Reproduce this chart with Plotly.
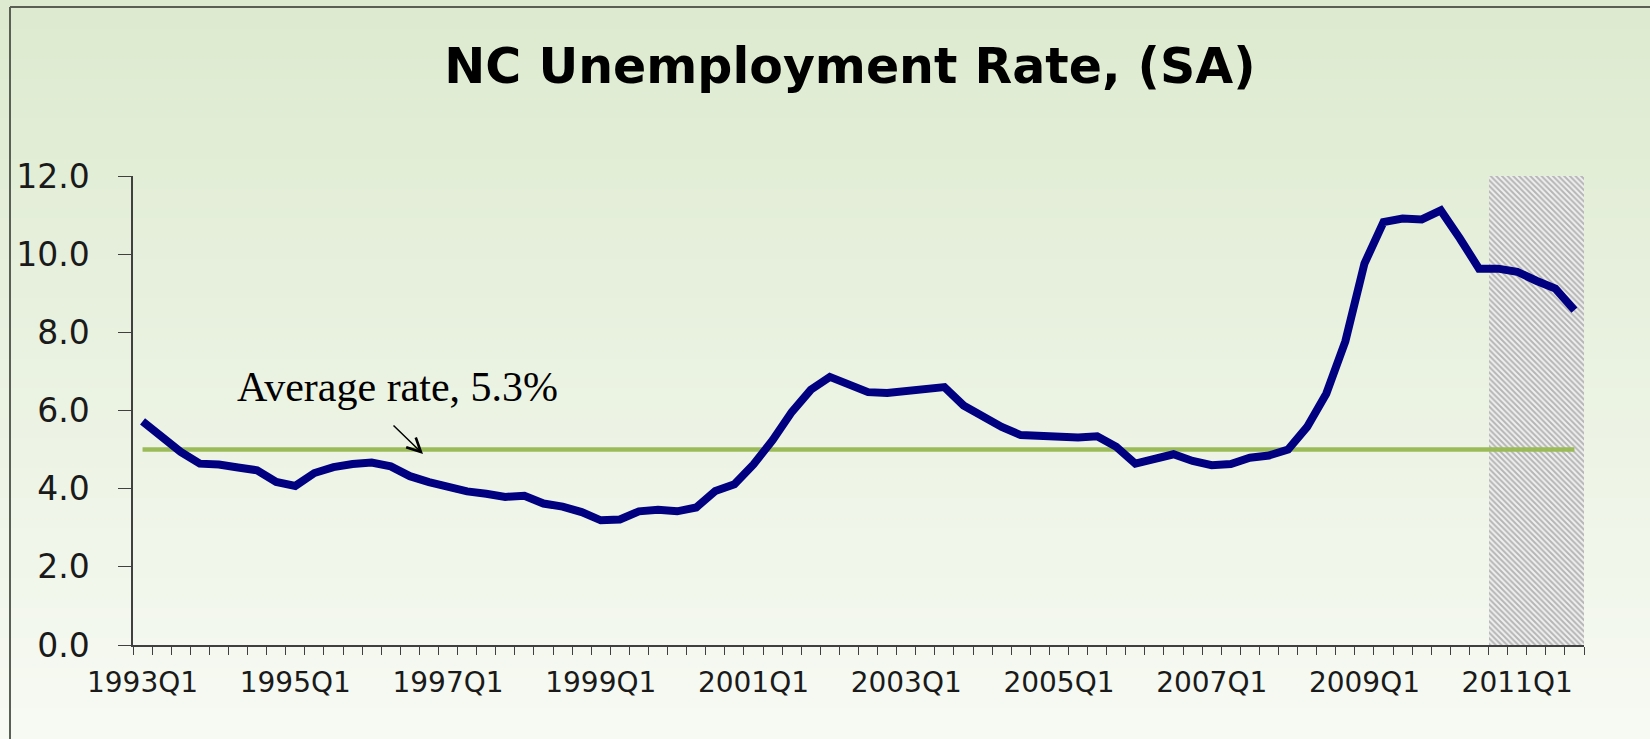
import plotly.graph_objects as go

# ---------------- data ----------------
quarters = [f"{yr}Q{q}" for yr in range(1993, 2012) for q in range(1, 5)]

unemployment_rate = [
    5.72, 5.32, 4.94, 4.64, 4.62, 4.54, 4.47, 4.17,   # 1993-1994
    4.07, 4.40, 4.55, 4.63, 4.67, 4.57, 4.32, 4.17,   # 1995-1996
    4.04, 3.93, 3.87, 3.79, 3.82, 3.62, 3.54, 3.40,   # 1997-1998
    3.19, 3.21, 3.42, 3.46, 3.42, 3.52, 3.94, 4.11,   # 1999-2000
    4.62, 5.24, 5.96, 6.53, 6.86, 6.69, 6.47, 6.45,   # 2001-2002
    6.50, 6.60, 6.60, 6.13, 5.83, 5.58, 5.37, 5.34,   # 2003-2004
    5.34, 5.31, 5.34, 5.07, 4.64, 4.74, 4.88, 4.71,   # 2005-2006
    4.60, 4.63, 4.79, 4.85, 5.00, 5.58, 6.43, 7.77,   # 2007-2008
    9.76, 10.82, 10.91, 10.89, 11.12, 10.40, 9.63, 9.63,  # 2009-2010
    9.55, 9.32, 9.12, 8.57,                           # 2011
]

average_line_level = 5.0          # level at which the "average" line is drawn
average_label = "Average rate, 5.3%"

forecast_quarters = ["2010Q4", "2011Q1", "2011Q2", "2011Q3", "2011Q4"]

x_tick_labels = ["1993Q1", "1995Q1", "1997Q1", "1999Q1", "2001Q1",
                 "2003Q1", "2005Q1", "2007Q1", "2009Q1", "2011Q1"]
y_tick_values = [0, 2, 4, 6, 8, 10, 12]
y_tick_labels = ["0.0", "2.0", "4.0", "6.0", "8.0", "10.0", "12.0"]

title_text = "NC Unemployment Rate, (SA)"

# ---------------- layout geometry ----------------
W, H = 1650, 739
ML, MR, MT, MB = 133, 66, 176, 94
PW, PH = W - ML - MR, H - MT - MB
Y_MAX = 12


def px_x(px):
    return (px - ML) / PW


def px_y(py):
    return (H - MB - py) / PH


x_idx = list(range(len(quarters)))
forecast_idx = [quarters.index(q) for q in forecast_quarters]
tick_idx = [quarters.index(q) for q in x_tick_labels]

fig = go.Figure()

# forecast shading (hatched)
fig.add_trace(go.Bar(
    x=forecast_idx,
    y=[Y_MAX] * len(forecast_idx),
    width=1,
    marker=dict(
        color="#e6e6e6",
        line=dict(width=0),
        pattern=dict(shape="\\", fgcolor="#7a7a7a", bgcolor="#f0f0f0",
                     size=4, solidity=0.5),
    ),
    hoverinfo="skip",
))

# average line
fig.add_trace(go.Scatter(
    x=x_idx,
    y=[average_line_level] * len(x_idx),
    mode="lines",
    line=dict(color="#9BBB59", width=4.5),
    hoverinfo="skip",
))

# unemployment rate
fig.add_trace(go.Scatter(
    x=x_idx,
    y=unemployment_rate,
    mode="lines",
    line=dict(color="#000080", width=8),
    name="NC Unemployment Rate",
))

# ---------------- background gradient + frame ----------------
shapes = []
top_c = (221, 234, 207)
bot_c = (247, 250, 243)
n_bands = 74
band_h = H / n_bands
for k in range(n_bands):
    t = k / (n_bands - 1)
    c = tuple(round(top_c[j] + (bot_c[j] - top_c[j]) * t) for j in range(3))
    shapes.append(dict(
        type="rect", xref="paper", yref="paper", layer="below",
        x0=px_x(-2), x1=px_x(W + 2),
        y0=px_y(k * band_h - 1), y1=px_y((k + 1) * band_h + 1),
        fillcolor=f"rgb{c}", line=dict(width=0),
    ))
shapes.append(dict(type="line", xref="paper", yref="paper", layer="above",
                   x0=px_x(10), x1=px_x(W + 2), y0=px_y(7), y1=px_y(7),
                   line=dict(color="#595f55", width=2)))
shapes.append(dict(type="line", xref="paper", yref="paper", layer="above",
                   x0=px_x(10), x1=px_x(10), y0=px_y(7), y1=px_y(H + 2),
                   line=dict(color="#595f55", width=2)))

axis_color = "#404040"

fig.update_layout(
    width=W, height=H,
    margin=dict(l=ML, r=MR, t=MT, b=MB, pad=0, autoexpand=False),
    paper_bgcolor="rgb(240,245,234)",
    plot_bgcolor="rgba(0,0,0,0)",
    showlegend=False,
    bargap=0,
    shapes=shapes,
    title=dict(
        text=title_text,
        x=850 / W, xanchor="center", xref="container",
        y=1 - 65.5 / H, yanchor="middle", yref="container",
        font=dict(family="DejaVu Sans", size=49, color="#000000", weight="bold"),
    ),
    xaxis=dict(
        range=[-0.5, len(quarters) - 0.5],
        tickmode="array", tickvals=tick_idx, ticktext=x_tick_labels,
        ticks="outside", ticklen=8, tickcolor="rgba(0,0,0,0)",
        ticklabelstandoff=4,
        tickfont=dict(family="DejaVu Sans", size=28, color="#1a1a1a"),
        showline=True, linecolor=axis_color, linewidth=1.5,
        showgrid=False, zeroline=False,
        minor=dict(tickmode="linear", tick0=-0.5, dtick=1, ticks="outside",
                   ticklen=8, tickcolor=axis_color, tickwidth=1.2, showgrid=False),
    ),
    yaxis=dict(
        range=[0, Y_MAX],
        tickmode="array", tickvals=y_tick_values, ticktext=y_tick_labels,
        ticks="outside", ticklen=13, tickcolor=axis_color, tickwidth=1.2,
        ticklabelstandoff=22,
        tickfont=dict(family="DejaVu Sans", size=33, color="#1a1a1a"),
        showline=True, linecolor=axis_color, linewidth=1.5,
        showgrid=False, zeroline=False,
    ),
    annotations=[
        dict(
            text=average_label, showarrow=False,
            xref="paper", yref="paper",
            x=px_x(397), y=px_y(387), xanchor="center", yanchor="middle",
            font=dict(family="Liberation Serif", size=42, color="#000000"),
        ),
        dict(
            text="", showarrow=True,
            xref="paper", yref="paper",
            x=px_x(423), y=px_y(454), ax=-31, ay=-30,
            arrowhead=5, arrowsize=1.8, arrowwidth=1.5, arrowcolor="#000000",
            standoff=0,
        ),
    ],
)

fig.write_html("out.html")
